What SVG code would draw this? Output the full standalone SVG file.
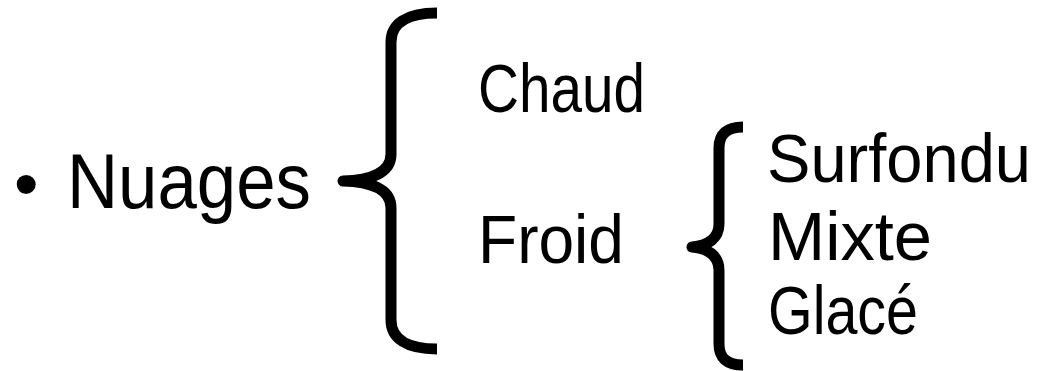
<svg xmlns="http://www.w3.org/2000/svg" width="1045" height="371" viewBox="0 0 1045 371">
<style>
.t{font-family:"Liberation Sans","DejaVu Sans",sans-serif;fill:#000}
.b{fill:none;stroke:#000;stroke-width:11;stroke-linejoin:round;stroke-linecap:butt}
</style>
<rect width="1045" height="371" fill="#fff"/>
<g id="nuages">
<text class="t" font-size="78" y="208"><tspan x="14" font-size="70">•</tspan><tspan x="67" textLength="244" lengthAdjust="spacingAndGlyphs">Nuages</tspan></text>
</g>
<g id="chaud"><text class="t" font-size="69" x="478" y="112" textLength="167" lengthAdjust="spacingAndGlyphs">Chaud</text></g>
<g id="froid"><text class="t" font-size="69" x="478" y="263" textLength="146" lengthAdjust="spacingAndGlyphs">Froid</text></g>
<g id="surfondu"><text class="t" font-size="69" x="767" y="182" textLength="264" lengthAdjust="spacingAndGlyphs">Surfondu</text></g>
<g id="mixte"><text class="t" font-size="69" x="768" y="260" textLength="164" lengthAdjust="spacingAndGlyphs">Mixte</text></g>
<g id="glace"><text class="t" font-size="69" x="768" y="334" textLength="150" lengthAdjust="spacingAndGlyphs">Glacé</text></g>
<g id="connectors">
<path class="b" d="M437,13 C406,13 391,24 391,42 L391,154 C391,171 376,180 343,181 C376,182 391,191 391,208 L391,320 C391,338 406,349 437,349"/>
<path class="b" d="M743,127 C727,127 719,134 719,148 L719,224 C719,238 708,246 692,247 C708,248 719,256 719,270 L719,344 C719,358 727,365 743,365"/>
</g>
</svg>
